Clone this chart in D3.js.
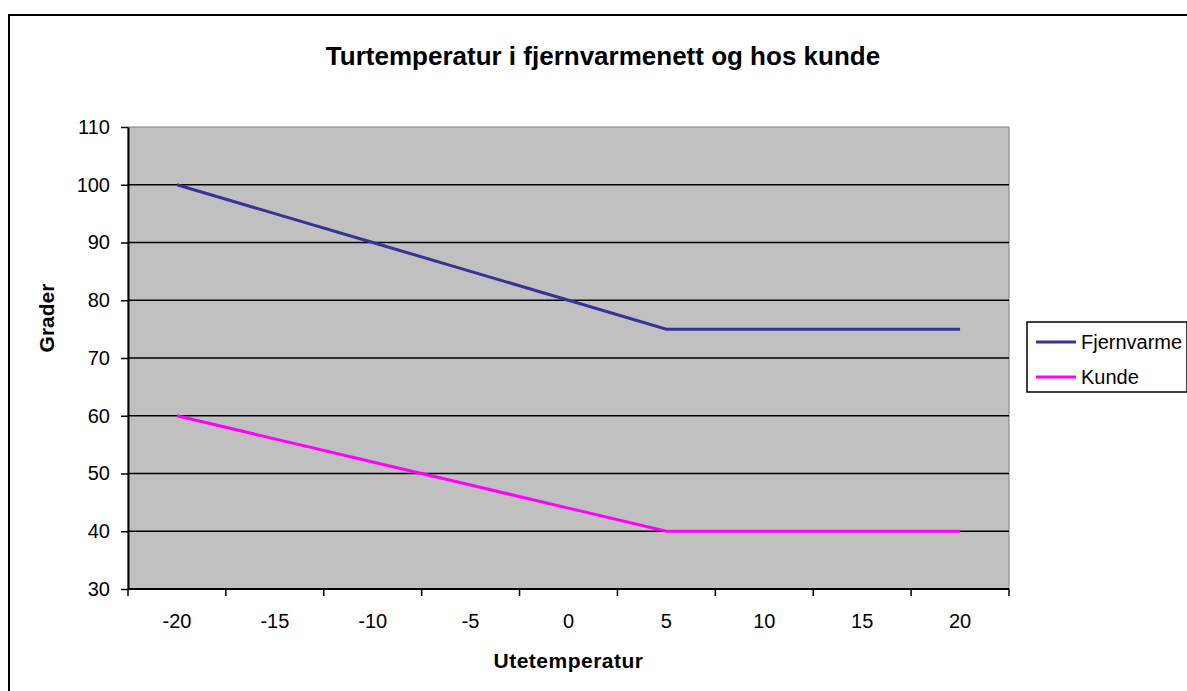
<!DOCTYPE html>
<html>
<head>
<meta charset="utf-8">
<script src="https://cdn.jsdelivr.net/npm/d3@7"></script>
<style>
  body { margin: 0; background: #fff; }
  svg { display: block; font-family: "Liberation Sans", Arial, sans-serif; }
</style>
</head>
<body>
<svg id="chart" width="1187" height="691"></svg>
<script>
// data
var categories = [-20, -15, -10, -5, 0, 5, 10, 15, 20];
var fjernvarme = [100, 95, 90, 85, 80, 75, 75, 75, 75];
var kunde = [60, 56, 52, 48, 44, 40, 40, 40, 40];
var yTicks = [30, 40, 50, 60, 70, 80, 90, 100, 110];
var seriesNames = ["Fjernvarme", "Kunde"];
var seriesColors = ["#333399", "#ff00ff"];

var svg = d3.select("#chart");
var plotLeft = 128, plotRight = 1009, plotTop = 127, plotBottom = 589;

// outer chart frame (runs past the right and bottom edges)
svg.append("rect")
    .attr("x", 9).attr("y", 15)
    .attr("width", 1200).attr("height", 700)
    .attr("fill", "#fff")
    .attr("stroke", "#000")
    .attr("stroke-width", 2);

var x = d3.scaleBand().domain(categories).range([plotLeft, plotRight]);
var y = d3.scaleLinear().domain([30, 110]).range([plotBottom, plotTop]);

// plot area
svg.append("rect")
    .attr("x", plotLeft).attr("y", plotTop)
    .attr("width", plotRight - plotLeft).attr("height", plotBottom - plotTop)
    .attr("fill", "#c0c0c0")
    .attr("stroke", "#808080")
    .attr("stroke-width", 1);

// gridlines
svg.append("g").selectAll("line")
    .data(yTicks.slice(1, -1))
    .join("line")
    .attr("x1", plotLeft).attr("x2", plotRight)
    .attr("y1", d => y(d)).attr("y2", d => y(d))
    .attr("stroke", "#000").attr("stroke-width", 1.5);

// y axis
var yAxis = svg.append("g")
    .attr("transform", `translate(${plotLeft},0)`)
    .call(d3.axisLeft(y).tickValues(yTicks).tickSize(7).tickPadding(11).tickSizeOuter(0));
yAxis.select(".domain").attr("stroke", "#000").attr("stroke-width", 2);
yAxis.selectAll(".tick line").attr("stroke", "#000").attr("stroke-width", 1.5);
yAxis.selectAll("text").attr("font-size", 20).attr("fill", "#000")
    .attr("font-family", "Liberation Sans, Arial, sans-serif");

// x axis, ticks between categories
var xAxis = svg.append("g")
    .attr("transform", `translate(0,${plotBottom})`);
xAxis.append("line")
    .attr("x1", plotLeft).attr("x2", plotRight)
    .attr("stroke", "#000").attr("stroke-width", 2);
var tickPos = categories.map(c => x(c)).concat([plotRight]);
xAxis.selectAll("line.tk")
    .data(tickPos)
    .join("line")
    .attr("class", "tk")
    .attr("x1", d => d).attr("x2", d => d)
    .attr("y1", 0).attr("y2", 7)
    .attr("stroke", "#000").attr("stroke-width", 1.5);
xAxis.selectAll("text")
    .data(categories)
    .join("text")
    .attr("x", d => x(d) + x.bandwidth() / 2)
    .attr("y", 39)
    .attr("text-anchor", "middle")
    .attr("font-size", 20)
    .text(d => d);

// lines
var line = d3.line()
    .x((d, i) => x(categories[i]) + x.bandwidth() / 2)
    .y(d => y(d));

[fjernvarme, kunde].forEach(function(s, i) {
    svg.append("path")
        .datum(s)
        .attr("d", line)
        .attr("fill", "none")
        .attr("stroke", seriesColors[i])
        .attr("stroke-width", 3);
});

// titles
svg.append("text")
    .attr("x", 603).attr("y", 65)
    .attr("text-anchor", "middle")
    .attr("font-size", 26).attr("font-weight", "bold")
    .text("Turtemperatur i fjernvarmenett og hos kunde");

svg.append("text")
    .attr("x", (plotLeft + plotRight) / 2).attr("y", 668)
    .attr("text-anchor", "middle")
    .attr("font-size", 21).attr("font-weight", "bold")
    .attr("letter-spacing", 0.5)
    .text("Utetemperatur");

svg.append("text")
    .attr("transform", "translate(54,318) rotate(-90)")
    .attr("text-anchor", "middle")
    .attr("font-size", 21).attr("font-weight", "bold")
    .text("Grader");

// legend
var legend = svg.append("g");
legend.append("rect")
    .attr("x", 1027).attr("y", 322)
    .attr("width", 160).attr("height", 70)
    .attr("fill", "#fff")
    .attr("stroke", "#000").attr("stroke-width", 1.5);
var items = legend.selectAll("g.item")
    .data(seriesNames)
    .join("g")
    .attr("class", "item")
    .attr("transform", (d, i) => `translate(1036,${342 + i * 35})`);
items.append("line")
    .attr("x1", 0).attr("x2", 40)
    .attr("stroke", (d, i) => seriesColors[i])
    .attr("stroke-width", 3);
items.append("text")
    .attr("x", 45).attr("y", 7)
    .attr("font-size", 20)
    .text(d => d);
</script>
</body>
</html>
